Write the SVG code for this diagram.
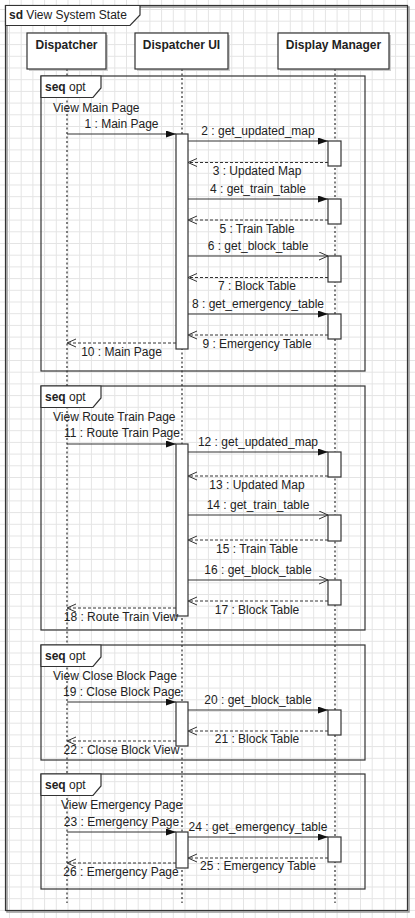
<svg xmlns="http://www.w3.org/2000/svg" width="415" height="918" viewBox="0 0 415 918">
<defs>
<pattern id="grid" x="9" y="9" width="11.7" height="11.7" patternUnits="userSpaceOnUse">
<path d="M0,0.5 H11.7 M0.5,0 V11.7" stroke="#e4e4e4" stroke-width="1" fill="none"/>
</pattern>
<marker id="fill" markerUnits="userSpaceOnUse" markerWidth="11" markerHeight="8" refX="10" refY="3.5" orient="auto">
<path d="M0,0 L10,3.5 L0,7 Z" fill="#111"/>
</marker>
<marker id="open" markerUnits="userSpaceOnUse" markerWidth="11" markerHeight="10" refX="10" refY="4.5" orient="auto">
<path d="M1,0.5 L10,4.5 L1,8.5" fill="none" stroke="#333" stroke-width="1"/>
</marker>
</defs>
<style>
text{font-family:"Liberation Sans",Arial,sans-serif;font-size:12px;fill:#222}
.b{font-weight:bold}
.c{text-anchor:middle}
.head{fill:#fff;stroke:#333;stroke-width:1.2}
.shadow{fill:#ccc}
.life{stroke:#555;stroke-width:1.5;stroke-dasharray:2,2.5;fill:none}
.frame{fill:none;stroke:#333;stroke-width:1.2}
.tab{fill:#fff;stroke:#333;stroke-width:1.2}
.act{fill:#fff;stroke:#333;stroke-width:1.2}
.msg{stroke:#333;stroke-width:1.2;fill:none;marker-end:url(#fill)}
.call{stroke:#333;stroke-width:1.2;fill:none;marker-end:url(#open)}
.ret{stroke:#333;stroke-width:1;fill:none;stroke-dasharray:3,2;marker-end:url(#open)}
</style>
<rect width="415" height="918" fill="#fff"/>
<rect width="415" height="918" fill="url(#grid)"/>

<g id="frame-sd">
<rect x="7" y="7" width="402" height="905" fill="none" stroke="#999" stroke-width="1.5"/>
<rect x="5.5" y="5.5" width="402" height="905" class="frame" stroke-width="1.5"/>
<path d="M5.5,5.5 H140 V15 L130,25.5 H5.5 Z" class="tab"/>
<text x="9" y="19"><tspan class="b">sd</tspan> View System State</text>
</g>

<g id="lifelines">
<g id="dispatcher">
<rect x="29" y="35" width="79" height="36" class="shadow"/>
<rect x="27" y="33" width="79" height="36" class="head"/>
<text x="66.5" y="48.5" class="b c">Dispatcher</text>
<line x1="67" y1="69" x2="67" y2="903" class="life"/>
</g>
<g id="dispatcher-ui">
<rect x="137" y="35" width="93" height="36" class="shadow"/>
<rect x="135" y="33" width="93" height="36" class="head"/>
<text x="181.5" y="48.5" class="b c">Dispatcher UI</text>
<line x1="182" y1="69" x2="182" y2="903" class="life"/>
</g>
<g id="display-manager">
<rect x="280" y="35" width="111" height="36" class="shadow"/>
<rect x="278" y="33" width="111" height="36" class="head"/>
<text x="333.5" y="48.5" class="b c">Display Manager</text>
<line x1="335" y1="69" x2="335" y2="903" class="life"/>
</g>
</g>

<g id="frame-main">
<rect x="41" y="76" width="324" height="295" class="frame"/>
<path d="M41,76 H101 V88 L93,97.5 H41 Z" class="tab"/>
<text x="45" y="90.5"><tspan class="b">seq</tspan> opt</text>
<text x="53" y="112">View Main Page</text>
</g>
<g id="frame-route">
<rect x="41" y="386" width="324" height="244" class="frame"/>
<path d="M41,386 H101 V398 L93,407.5 H41 Z" class="tab"/>
<text x="45" y="400.5"><tspan class="b">seq</tspan> opt</text>
<text x="53" y="421">View Route Train Page</text>
</g>
<g id="frame-close">
<rect x="41" y="645" width="324" height="115" class="frame"/>
<path d="M41,645 H101 V657 L93,666.5 H41 Z" class="tab"/>
<text x="45" y="659.5"><tspan class="b">seq</tspan> opt</text>
<text x="53" y="680">View Close Block Page</text>
</g>
<g id="frame-emergency">
<rect x="41" y="774" width="324" height="115" class="frame"/>
<path d="M41,774 H101 V786 L93,795.5 H41 Z" class="tab"/>
<text x="45" y="788.5"><tspan class="b">seq</tspan> opt</text>
<text x="61" y="809">View Emergency Page</text>
</g>

<g id="activations">
<rect x="176" y="134" width="12" height="215" class="act"/>
<rect x="176" y="444" width="12" height="172" class="act"/>
<rect x="176" y="702" width="12" height="44" class="act"/>
<rect x="176" y="832" width="12" height="36" class="act"/>
<rect x="328" y="141" width="13" height="25" class="act"/>
<rect x="328" y="199" width="13" height="25" class="act"/>
<rect x="328" y="256" width="13" height="26" class="act"/>
<rect x="328" y="314" width="13" height="25" class="act"/>
<rect x="328" y="452" width="13" height="25" class="act"/>
<rect x="328" y="515" width="13" height="26" class="act"/>
<rect x="328" y="580" width="13" height="25" class="act"/>
<rect x="328" y="710" width="13" height="25" class="act"/>
<rect x="328" y="837" width="13" height="25" class="act"/>
</g>

<g id="connectors">
<line x1="67" y1="134" x2="176" y2="134" class="msg"/>
<text x="121.5" y="128" class="c">1 : Main Page</text>
<line x1="188" y1="141" x2="328" y2="141" class="msg"/>
<text x="258" y="135" class="c">2 : get_updated_map</text>
<line x1="328" y1="162.5" x2="188" y2="162.5" class="ret"/>
<text x="257" y="175" class="c">3 : Updated Map</text>
<line x1="188" y1="199" x2="328" y2="199" class="msg"/>
<text x="258" y="193" class="c">4 : get_train_table</text>
<line x1="328" y1="220" x2="188" y2="220" class="ret"/>
<text x="257" y="233" class="c">5 : Train Table</text>
<line x1="188" y1="256" x2="328" y2="256" class="call"/>
<text x="258" y="250" class="c">6 : get_block_table</text>
<line x1="328" y1="277.5" x2="188" y2="277.5" class="ret"/>
<text x="257" y="290" class="c">7 : Block Table</text>
<line x1="188" y1="314" x2="328" y2="314" class="msg"/>
<text x="258" y="308" class="c">8 : get_emergency_table</text>
<line x1="328" y1="335" x2="188" y2="335" class="ret"/>
<text x="257" y="348" class="c">9 : Emergency Table</text>
<line x1="176" y1="343" x2="67" y2="343" class="ret"/>
<text x="121.5" y="356" class="c">10 : Main Page</text>

<line x1="67" y1="444" x2="176" y2="444" class="msg"/>
<text x="122" y="437" class="c">11 : Route Train Page</text>
<line x1="188" y1="452" x2="328" y2="452" class="msg"/>
<text x="258" y="446" class="c">12 : get_updated_map</text>
<line x1="328" y1="476" x2="188" y2="476" class="ret"/>
<text x="257" y="489" class="c">13 : Updated Map</text>
<line x1="188" y1="515" x2="328" y2="515" class="call"/>
<text x="258" y="509" class="c">14 : get_train_table</text>
<line x1="328" y1="540" x2="188" y2="540" class="ret"/>
<text x="257" y="553" class="c">15 : Train Table</text>
<line x1="188" y1="580" x2="328" y2="580" class="call"/>
<text x="258" y="574" class="c">16 : get_block_table</text>
<line x1="328" y1="601" x2="188" y2="601" class="ret"/>
<text x="257" y="614" class="c">17 : Block Table</text>
<line x1="176" y1="608" x2="67" y2="608" class="ret"/>
<text x="121" y="621" class="c">18 : Route Train View</text>

<line x1="67" y1="702" x2="176" y2="702" class="msg"/>
<text x="122" y="696" class="c">19 : Close Block Page</text>
<line x1="188" y1="710" x2="328" y2="710" class="msg"/>
<text x="258" y="704" class="c">20 : get_block_table</text>
<line x1="328" y1="731" x2="188" y2="731" class="ret"/>
<text x="257" y="743" class="c">21 : Block Table</text>
<line x1="176" y1="741" x2="67" y2="741" class="ret"/>
<text x="121.5" y="754" class="c">22 : Close Block View</text>

<line x1="67" y1="832" x2="176" y2="832" class="msg"/>
<text x="121.5" y="826" class="c">23 : Emergency Page</text>
<line x1="188" y1="837" x2="328" y2="837" class="msg"/>
<text x="258" y="831" class="c">24 : get_emergency_table</text>
<line x1="328" y1="858" x2="188" y2="858" class="ret"/>
<text x="258" y="870" class="c">25 : Emergency Table</text>
<line x1="176" y1="863" x2="67" y2="863" class="ret"/>
<text x="121" y="876" class="c">26 : Emergency Page</text>
</g>
</svg>
